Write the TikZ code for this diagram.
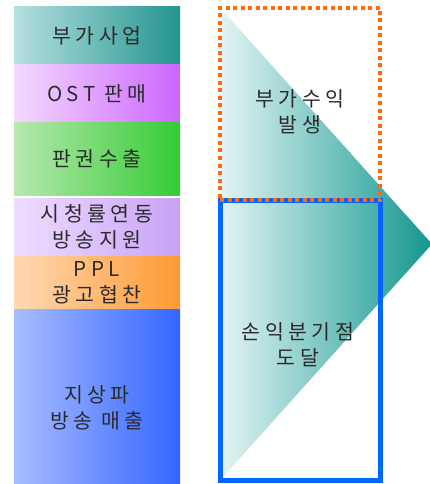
\documentclass[tikz,border=0pt]{standalone}
\usepackage{fontspec}
\newfontfamily\kr[LetterSpace=22]{Noto Sans CJK KR}
\definecolor{txt}{HTML}{2B2B2B}
\definecolor{c1l}{HTML}{B5E0E0}\definecolor{c1r}{HTML}{23948F}
\definecolor{c2l}{HTML}{F3D9FF}\definecolor{c2r}{HTML}{CC66FF}
\definecolor{c3l}{HTML}{B8E8B0}\definecolor{c3r}{HTML}{33CC33}
\definecolor{c4l}{HTML}{EEDDFF}\definecolor{c4r}{HTML}{C9A2F5}
\definecolor{c5l}{HTML}{FFD9B3}\definecolor{c5r}{HTML}{FF9933}
\definecolor{c6l}{HTML}{A8BCFF}\definecolor{c6r}{HTML}{3366FF}
\definecolor{tl}{HTML}{E2F3F3}\definecolor{tr}{HTML}{12978F}
\definecolor{blueline}{HTML}{0066FF}
\definecolor{orangedot}{HTML}{FF6A10}
\begin{document}
\begin{tikzpicture}[x=1pt,y=-1pt,
  lbl/.style={font=\kr\fontsize{20.5}{26}\selectfont, text=txt, align=center},
  bar/.style={minimum width=166pt, inner sep=0pt, outer sep=0pt, anchor=north west, lbl},
  frame/.style={minimum width=160pt, inner sep=0pt, outer sep=0pt, anchor=north west, fill=none}]
\useasboundingbox (0,0) rectangle (430,484);
% left column
\node[bar, minimum height=58pt, left color=c1l, right color=c1r] (b1) at (14,7) {부가사업};
\node[bar, minimum height=57pt, left color=c2l, right color=c2r] (b2) at (14,65) {OST 판매};
\node[bar, minimum height=73pt, left color=c3l, right color=c3r] (b3) at (14,122) {판권수출};
\node[bar, minimum height=58pt, left color=c4l, right color=c4r] (b4) at (14,198) {시청률연동\\방송지원};
\node[bar, minimum height=53pt, left color=c5l, right color=c5r] (b5) at (14,256) {PPL\\광고협찬};
\node[bar, minimum height=175pt, left color=c6l, right color=c6r] (b6) at (14,309) {};
\node[lbl] (t6) at (97,408) {지상파\\방송 매출};
% triangle
\coordinate (tA) at (222,10);
\coordinate (tB) at (432,244);
\coordinate (tC) at (222,478);
\shade[left color=tl, right color=tr] (tA) -- (tB) -- (tC) -- cycle;
% frames
\node[frame, draw=blueline, line width=5pt, minimum height=280pt] (bep) at (220,200) {};
\node[frame, draw=orangedot, line width=4pt, dash pattern=on 4pt off 3.5pt, minimum height=192pt] (gain) at (220,8) {};
% texts
\node[lbl] (gaintext) at (300,112) {부가수익\\발생};
\node[lbl] (beptext) at (298,345) {손익분기점\\도달};
\end{tikzpicture}
\end{document}
